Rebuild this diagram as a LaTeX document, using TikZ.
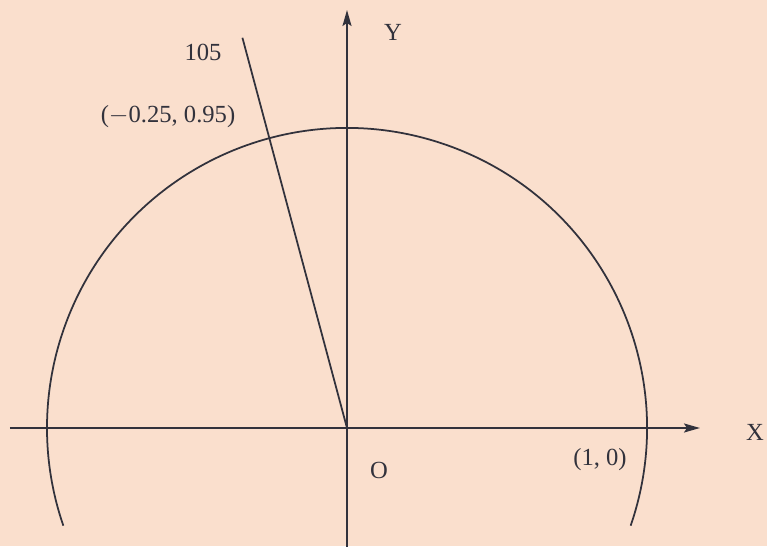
\documentclass[tikz,border=0pt]{standalone}
\usepackage{fontspec}
\setmainfont{Liberation Serif}
\usepackage{xcolor}
\usetikzlibrary{arrows.meta,positioning,calc}

\definecolor{paper}{RGB}{250,223,205}
\definecolor{ink}{RGB}{50,50,60}

\begin{document}
\begin{tikzpicture}[
  axis/.style={draw=ink, line width=1.1pt, -{Stealth[length=3.2mm, width=1.8mm, inset=0.6mm]}},
  curve/.style={draw=ink, line width=1pt},
  lbl/.style={font=\fontsize{14}{16}\selectfont, text=ink, inner sep=0pt},
]

% ===== Page and frame =====
\fill[paper] (-6.94,-2.36) rectangle (8.40,8.56);
\useasboundingbox (-6.94,-2.36) rectangle (8.40,8.56);

% ===== Points =====
\coordinate (O) at (0,0);
\coordinate (xa) at (-6.74,0);
\coordinate (xb) at (7.06,0);
\coordinate (ya) at (0,-2.40);
\coordinate (yb) at (0,8.36);
\coordinate (rayend) at (105:8.08);
\coordinate (arcstart) at (-19:6);

% ===== Axes =====
\draw[axis] (xa) -- (xb);
\draw[axis] (ya) -- (yb);
\node[lbl] (xlbl) at (8.16,-0.08) {X};
\node[lbl] (ylbl) at (0.92,7.92) {Y};
\node[lbl] (olbl) at (0.64,-0.84) {O};

% ===== Circle and ray =====
\draw[curve] (arcstart) arc[start angle=-19, end angle=199, radius=6];
\draw[curve] (O) -- (rayend);

% ===== Labels =====
\node[lbl] (anglbl) at (-2.88,7.52) {105};
\node[lbl] (ptlbl) at (-3.58,6.22) {($-$0.25, 0.95)};
\node[lbl] (onelbl) at (5.06,-0.64) {(1, 0)};

\end{tikzpicture}
\end{document}
